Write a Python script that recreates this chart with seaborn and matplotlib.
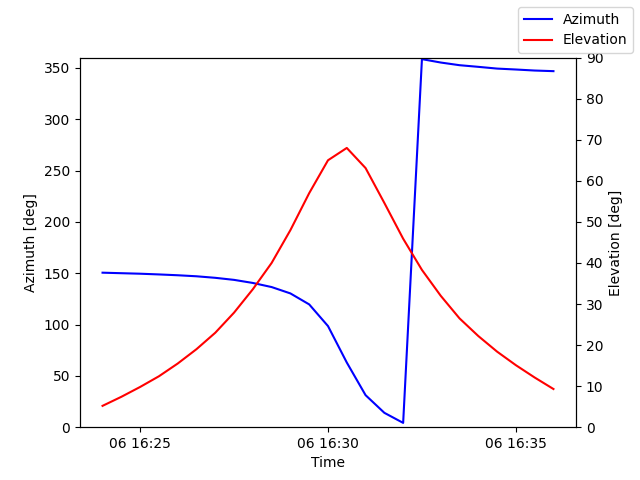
import pandas as pd
import numpy as np
import matplotlib
matplotlib.use('Agg')
import matplotlib.pyplot as plt
import seaborn as sns

# Passagem do satelite: amostras a cada 30 s
times = pd.date_range('2024-01-06 16:24:00', '2024-01-06 16:36:00', freq='30s')

azimuth = [150.5, 150.0, 149.5, 148.8, 148.0, 147.0, 145.5, 143.5, 140.5,
           136.5, 130.3, 119.6, 98.5, 63.0, 31.2, 14.0, 4.2, 358.5,
           355.2, 352.6, 351.0, 349.3, 348.4, 347.4, 346.8]

elevation = [5.2, 7.4, 9.8, 12.4, 15.5, 19.0, 23.0, 27.9, 33.6, 40.0,
             48.0, 57.0, 65.0, 68.0, 63.1, 54.6, 45.9, 38.3, 32.0, 26.5,
             22.2, 18.4, 15.1, 12.1, 9.3]

df = pd.DataFrame({'Time': times, 'Azimuth': azimuth, 'Elevation': elevation})

fig, ax1 = plt.subplots(figsize=(6.4, 4.8), dpi=100)
ax2 = ax1.twinx()

sns.lineplot(data=df, x='Time', y='Azimuth', ax=ax1, color='blue', label='Azimuth', legend=False)
sns.lineplot(data=df, x='Time', y='Elevation', ax=ax2, color='red', label='Elevation', legend=False)

ax1.set_ylim(0, 360)
ax2.set_ylim(0, 90)
ax1.set_xlabel('Time')
ax1.set_ylabel('Azimuth [deg]')
ax2.set_ylabel('Elevation [deg]')

fig.legend()

plt.savefig('out.png', dpi=100)
